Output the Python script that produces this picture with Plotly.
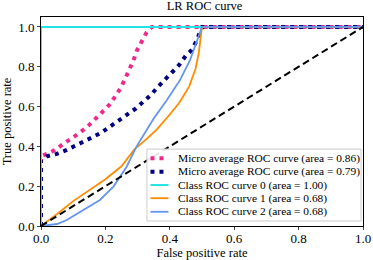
import plotly.graph_objects as go

title = "LR ROC curve"

micro1_name = "Micro average ROC curve (area = 0.86)"
micro1_fpr = [0.0, 0.0, 0.018, 0.043, 0.069, 0.095, 0.121, 0.147, 0.168, 0.188, 0.212, 0.230, 0.247, 0.261, 0.274, 0.287, 0.297, 0.313, 0.328, 0.344, 1.0]
micro1_tpr = [0.0, 0.35, 0.362, 0.382, 0.412, 0.44, 0.469, 0.503, 0.536, 0.566, 0.608, 0.650, 0.692, 0.739, 0.784, 0.831, 0.879, 0.923, 0.973, 1.0, 1.0]

micro2_name = "Micro average ROC curve (area = 0.79)"
micro2_fpr = [0.0, 0.0, 0.018, 0.049, 0.08, 0.106, 0.131, 0.16, 0.188, 0.214, 0.240, 0.269, 0.295, 0.318, 0.341, 0.362, 0.385, 0.406, 0.429, 0.449, 0.468, 0.483, 0.499, 0.5, 1.0]
micro2_tpr = [0.0, 0.33, 0.35, 0.362, 0.382, 0.404, 0.424, 0.446, 0.469, 0.499, 0.529, 0.558, 0.591, 0.625, 0.658, 0.697, 0.734, 0.770, 0.809, 0.854, 0.884, 0.930, 0.985, 1.0, 1.0]

c0_name = "Class ROC curve 0 (area = 1.00)"
c0_fpr = [0.0, 0.0, 1.0]
c0_tpr = [0.0, 1.0, 1.0]

c1_name = "Class ROC curve 1 (area = 0.68)"
c1_fpr = [0.0, 0.05, 0.1, 0.15, 0.2, 0.25, 0.29, 0.33, 0.36, 0.4, 0.43, 0.46, 0.48, 0.49, 0.497, 0.5, 1.0]
c1_tpr = [0.0, 0.06, 0.125, 0.18, 0.235, 0.3, 0.385, 0.44, 0.485, 0.56, 0.62, 0.70, 0.79, 0.87, 0.95, 1.0, 1.0]

c2_name = "Class ROC curve 2 (area = 0.68)"
c2_fpr = [0.0, 0.05, 0.08, 0.12, 0.183, 0.225, 0.266, 0.297, 0.328, 0.35, 0.39, 0.432, 0.463, 0.494, 0.5, 1.0]
c2_tpr = [0.0, 0.01, 0.03, 0.07, 0.131, 0.198, 0.298, 0.40, 0.482, 0.54, 0.63, 0.734, 0.834, 0.976, 1.0, 1.0]

diag = [0.0, 1.0]

tick_vals = [0, 0.2, 0.4, 0.6, 0.8, 1.0]
tick_text = ["0.0", "0.2", "0.4", "0.6", "0.8", "1.0"]

serif = "Liberation Serif, Times New Roman, serif"

series = [
    (micro1_name, micro1_fpr, micro1_tpr, dict(color="#f0288c", width=4, dash="4px,5px")),
    (micro2_name, micro2_fpr, micro2_tpr, dict(color="#000080", width=4, dash="4px,5px")),
    (c0_name, c0_fpr, c0_tpr, dict(color="#22e4e4", width=2)),
    (c1_name, c1_fpr, c1_tpr, dict(color="#ff8c00", width=1.8)),
    (c2_name, c2_fpr, c2_tpr, dict(color="#6495ed", width=1.8)),
]

fig = go.Figure()
for name, xs, ys, ln in series:
    fig.add_trace(go.Scatter(x=xs, y=ys, mode="lines", name=name, line=ln, showlegend=False))
fig.add_trace(go.Scatter(x=diag, y=diag, mode="lines", showlegend=False,
                         line=dict(color="black", width=2, dash="7px,4px")))

# compact legend (matplotlib-like)
lx0, lx1, ly0, ly1 = 0.329, 0.994, 0.024, 0.368
fig.add_shape(type="rect", xref="paper", yref="paper", x0=lx0, x1=lx1, y0=ly0, y1=ly1,
              line=dict(color="#cccccc", width=1), fillcolor="rgba(255,255,255,0.9)", layer="above")
row_y = [0.324, 0.260, 0.196, 0.133, 0.068]
for (name, xs, ys, ln), yy in zip(series, row_y):
    fig.add_shape(type="line", xref="paper", yref="paper", x0=0.340, x1=0.396, y0=yy, y1=yy,
                  line=ln, layer="above")
    fig.add_annotation(xref="paper", yref="paper", x=0.419, y=yy, text=name, showarrow=False,
                       xanchor="left", yanchor="middle", font=dict(family=serif, size=11.4, color="black"))

fig.update_layout(
    width=373, height=260,
    margin=dict(l=41, r=10, t=17, b=34),
    paper_bgcolor="white", plot_bgcolor="white",
    font=dict(family=serif, size=12, color="black"),
    title=dict(text=title, x=0.508, xref="paper", xanchor="center", y=0.995, yanchor="top",
               font=dict(family=serif, size=12.5)),
    showlegend=False,
)
fig.update_xaxes(range=[0, 1.0], tickvals=tick_vals, ticktext=tick_text, automargin=False,
                 tickfont=dict(size=13), ticks="outside", ticklen=3, ticklabelstandoff=-3,
                 showline=True, linecolor="black", linewidth=1, mirror=True, showgrid=False,
                 zeroline=False,
                 title=dict(text="False positive rate", standoff=5, font=dict(size=12.5)))
fig.update_yaxes(range=[0, 1.05], tickvals=tick_vals, ticktext=tick_text, automargin=False,
                 tickfont=dict(size=13), ticks="outside", ticklen=3, showline=True,
                 linecolor="black", linewidth=1, mirror=True, showgrid=False, zeroline=False,
                 title=dict(text="True positive rate", standoff=3, font=dict(size=12.5)))

fig.write_html("out.html", config={"displayModeBar": False},
               post_script="document.body.style.margin='0px';")
